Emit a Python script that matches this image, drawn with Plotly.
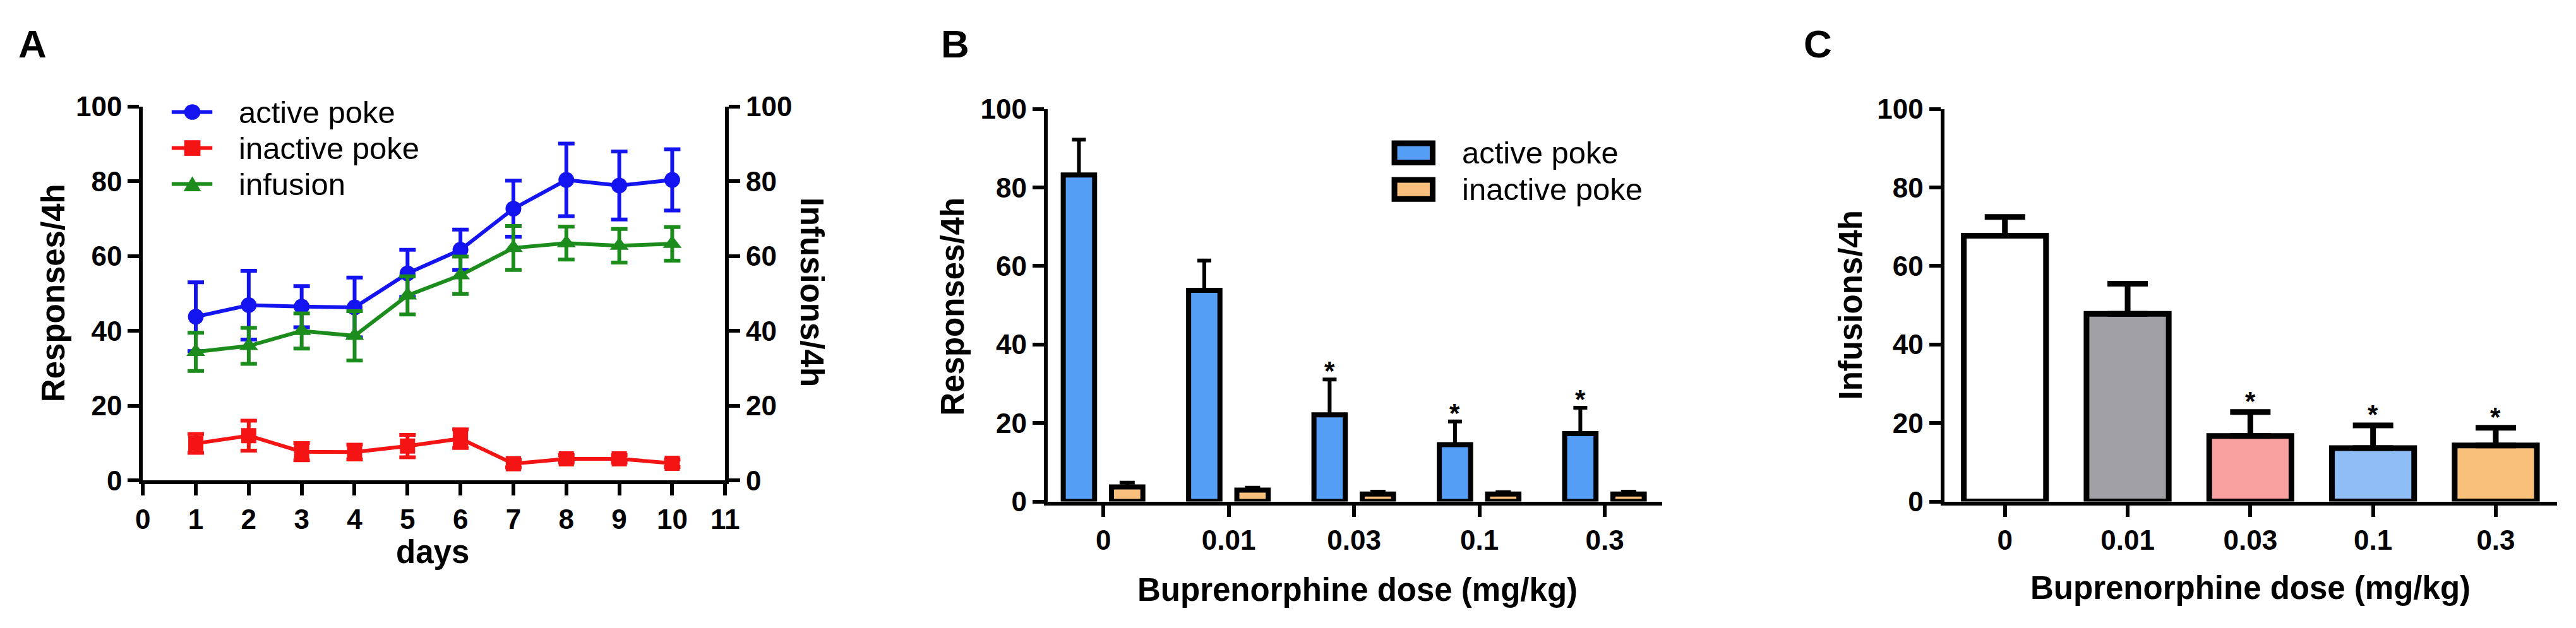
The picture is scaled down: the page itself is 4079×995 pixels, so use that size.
import plotly.graph_objects as go

W, H = 4079, 995
FONT = "Liberation Sans, Arial, sans-serif"

# panel A: acquisition over days
days = list(range(1, 11))
active_mean = [43.8, 46.9, 46.5, 46.3, 55.4, 61.7, 72.7, 80.4, 78.9, 80.4]
active_sem = [9.2, 9.2, 5.5, 8.0, 6.3, 5.4, 7.5, 9.7, 9.1, 8.2]
inactive_mean = [9.9, 12.0, 7.7, 7.6, 9.2, 11.2, 4.5, 5.8, 5.8, 4.6]
inactive_sem = [2.5, 4.0, 2.3, 2.0, 3.0, 2.5, 1.0, 1.0, 1.0, 1.0]
infusion_mean = [34.4, 36.0, 40.0, 38.7, 49.5, 54.9, 62.2, 63.5, 62.8, 63.3]
infusion_sem = [5.1, 4.8, 4.7, 6.6, 5.1, 5.0, 5.9, 4.4, 4.5, 4.5]

# panel B: pokes vs dose
doses = ["0", "0.01", "0.03", "0.1", "0.3"]
b_active = [83.2, 53.8, 22.1, 14.5, 17.3]
b_active_sem = [9.0, 7.6, 9.0, 5.9, 6.6]
b_inactive = [3.7, 2.9, 1.9, 1.9, 1.9]
b_inactive_sem = [1.1, 0.6, 0.6, 0.5, 0.6]
b_sig = [False, False, True, True, True]

# panel C: infusions vs dose
c_infusions = [67.7, 47.8, 16.7, 13.6, 14.3]
c_sem = [4.8, 7.7, 6.1, 5.8, 4.5]
c_sig = [False, False, True, True, True]
c_colors = ["#ffffff", "#a1a1a5", "#f9a0a0", "#8fbdf6", "#f8c07a"]

BLUE, RED, GREEN = "#1414f0", "#f51414", "#1c8c1c"
B_ACT, B_INACT = "#559ef5", "#f9c07d"


def fx(px):
    return px / W


def fy(py):
    return 1 - py / H


idx = list(range(len(doses)))

fig = go.Figure()

# ---- A ----
fig.add_trace(go.Scatter(
    x=days, y=active_mean, mode="lines+markers", name="active poke",
    line=dict(color=BLUE, width=6),
    marker=dict(symbol="circle", size=25, color=BLUE),
    error_y=dict(type="data", array=active_sem, color=BLUE, thickness=6, width=13),
    xaxis="x", yaxis="y"))
fig.add_trace(go.Scatter(
    x=days, y=inactive_mean, mode="lines+markers", name="inactive poke",
    line=dict(color=RED, width=6),
    marker=dict(symbol="square", size=24, color=RED),
    error_y=dict(type="data", array=inactive_sem, color=RED, thickness=6, width=13),
    xaxis="x", yaxis="y"))
fig.add_trace(go.Scatter(
    x=days, y=infusion_mean, mode="lines+markers", name="infusion",
    line=dict(color=GREEN, width=6),
    marker=dict(symbol="triangle-up", size=26, color=GREEN),
    error_y=dict(type="data", array=infusion_sem, color=GREEN, thickness=6, width=13),
    xaxis="x", yaxis="y2"))

# ---- B ----
fig.add_trace(go.Bar(
    x=idx, y=b_active, width=0.25, offset=-0.32, name="active poke",
    marker=dict(color=B_ACT, line=dict(color="black", width=8)),
    error_y=dict(type="data", array=b_active_sem, arrayminus=[0] * 5, symmetric=False,
                 color="black", thickness=6, width=11),
    xaxis="x2", yaxis="y3"))
fig.add_trace(go.Bar(
    x=idx, y=b_inactive, width=0.25, offset=0.065, name="inactive poke",
    marker=dict(color=B_INACT, line=dict(color="black", width=8)),
    error_y=dict(type="data", array=b_inactive_sem, arrayminus=[0] * 5, symmetric=False,
                 color="black", thickness=6, width=12),
    xaxis="x2", yaxis="y3"))

# ---- C ----
fig.add_trace(go.Bar(
    x=idx, y=c_infusions, width=0.67, offset=-0.335,
    marker=dict(color=c_colors, line=dict(color="black", width=9)),
    error_y=dict(type="data", array=c_sem, arrayminus=[0] * 5, symmetric=False,
                 color="black", thickness=9, width=32),
    xaxis="x3", yaxis="y4"))

axis_style = dict(showline=True, linecolor="black", linewidth=6, ticks="outside",
                  ticklen=18, tickwidth=6, tickcolor="black", showgrid=False,
                  zeroline=False, tickfont=dict(family=FONT, size=44, color="black", weight="bold"))

fig.update_layout(
    width=W, height=H, margin=dict(l=0, r=0, t=0, b=0),
    paper_bgcolor="white", plot_bgcolor="white", showlegend=False,
    barmode="overlay",
    xaxis=dict(domain=[fx(208), fx(1138)], range=[0, 11], tickvals=list(range(12)),
               anchor="y", **axis_style),
    yaxis=dict(domain=[fy(766), fy(143)], range=[0, 100], dtick=20, anchor="x", **axis_style),
    yaxis2=dict(range=[0, 100], dtick=20, overlaying="y", side="right", anchor="x", **axis_style),
    xaxis2=dict(domain=[fx(1653), fx(2635)], range=[-0.445, 4.46], tickvals=idx,
                ticktext=doses, anchor="y3", **axis_style),
    yaxis3=dict(domain=[fy(801), fy(147)], range=[0, 100], dtick=20, anchor="x2", **axis_style),
    xaxis3=dict(domain=[fx(3085), fx(4064)], range=[-0.495, 4.5], tickvals=idx,
                ticktext=doses, anchor="y4", **axis_style),
    yaxis4=dict(domain=[fy(801), fy(147)], range=[0, 100], dtick=20, anchor="x3", **axis_style),
)

title_font = dict(family=FONT, size=51, color="black", weight="bold")
ann = []


def label(text, x, y, angle=0, font=title_font, xanchor="center"):
    ann.append(dict(text=text, x=fx(x), y=fy(y), xref="paper", yref="paper",
                    showarrow=False, textangle=angle, font=font,
                    xanchor=xanchor, yanchor="middle"))


# panel letters
letter_font = dict(family=FONT, size=62, color="black", weight="bold")
label("A", 32, 38, font=letter_font)
label("B", 1505, 38, font=letter_font)
label("C", 2883, 38, font=letter_font)

# axis titles
label("Responses/4h", 65, 453, angle=-90)
label("Infusions/4h", 1276, 452, angle=90)
label("days", 671, 885)
label("Responses/4h", 1501, 476, angle=-90)
label("Buprenorphine dose (mg/kg)", 2148, 948)
label("Infusions/4h", 2936, 474, angle=-90)
label("Buprenorphine dose (mg/kg)", 3574, 945)

# significance stars
star_font = dict(family=FONT, size=42, color="black", weight="bold")
for i, s in enumerate(b_sig):
    if s:
        ann.append(dict(text="*", x=i - 0.195, y=b_active[i] + b_active_sem[i],
                        xref="x2", yref="y3", showarrow=False, yanchor="bottom",
                        yshift=-12, font=star_font))
for i, s in enumerate(c_sig):
    if s:
        ann.append(dict(text="*", x=i, y=c_infusions[i] + c_sem[i],
                        xref="x3", yref="y4", showarrow=False, yanchor="bottom",
                        yshift=-8, font=star_font))

# legend A (drawn by hand to match the large symbols)
leg_font = dict(family=FONT, size=49, color="black")
shapes = []
rows_a = [("active poke", BLUE, "circle", 152), ("inactive poke", RED, "square", 212),
          ("infusion", GREEN, "triangle", 272)]
for text, col, sym, yc in rows_a:
    shapes.append(dict(type="line", xref="paper", yref="paper", x0=fx(254), x1=fx(319),
                       y0=fy(yc), y1=fy(yc), line=dict(color=col, width=6)))
    if sym == "circle":
        shapes.append(dict(type="circle", xref="paper", yref="paper", x0=fx(274), x1=fx(300),
                           y0=fy(yc + 13), y1=fy(yc - 13), fillcolor=col, line=dict(width=0)))
    elif sym == "square":
        shapes.append(dict(type="rect", xref="paper", yref="paper", x0=fx(274), x1=fx(300),
                           y0=fy(yc + 13), y1=fy(yc - 13), fillcolor=col, line=dict(width=0)))
    else:
        path = "M %f %f L %f %f L %f %f Z" % (fx(273), fy(yc + 12), fx(301), fy(yc + 12),
                                               fx(287), fy(yc - 13))
        shapes.append(dict(type="path", xref="paper", yref="paper", path=path,
                           fillcolor=col, line=dict(width=0)))
    label(text, 359, yc, font=leg_font, xanchor="left")

# legend B
rows_b = [("active poke", B_ACT, 220), ("inactive poke", B_INACT, 281)]
for text, col, yc in rows_b:
    shapes.append(dict(type="rect", xref="paper", yref="paper", x0=fx(2207), x1=fx(2268),
                       y0=fy(yc + 16), y1=fy(yc - 16), fillcolor=col,
                       line=dict(color="black", width=9)))
    label(text, 2313, yc, font=leg_font, xanchor="left")

fig.update_layout(annotations=ann, shapes=shapes)

fig.write_html("out.html")
